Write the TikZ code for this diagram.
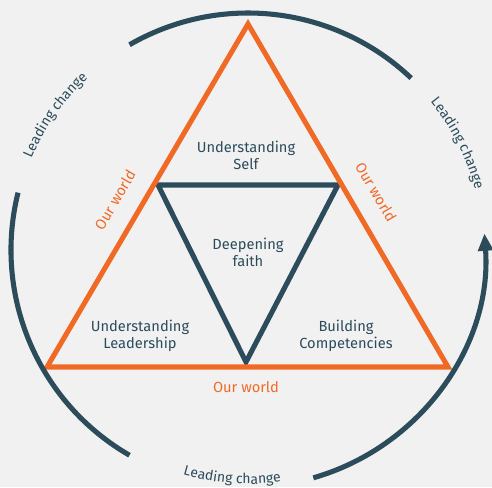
\documentclass[tikz,border=0pt]{standalone}
\usepackage{fontspec}
\setmainfont{Fira Sans}
\usetikzlibrary{positioning, calc, arrows.meta, decorations.text}
\definecolor{slate}{RGB}{44,76,92}
\definecolor{tangerine}{RGB}{240,106,38}
\definecolor{paper}{RGB}{241,241,241}

\begin{document}
\begin{tikzpicture}
    [x=0.75pt, y=0.75pt,
     areatext/.style={text=slate, font=\fontsize{11}{12.6}\selectfont, align=center},
     world/.style={text=tangerine, font=\fontsize{11}{13}\selectfont},
     ring/.style={draw=slate, line width=3.8pt},
     outer/.style={draw=tangerine, line width=3.8pt},
     inner/.style={draw=slate, line width=3.8pt}]

    \fill[paper] (0,0) rectangle (492,487);
    \useasboundingbox (0,0) rectangle (492,487);

    \coordinate (centre) at (248,237);

    % triangles
    \coordinate (apex) at (248,463);
    \coordinate (baseL) at (47,120);
    \coordinate (baseR) at (448,120);
    \coordinate (innerL) at (158,302);
    \coordinate (innerR) at (338,302);
    \coordinate (innerB) at (246,125);

    \draw[inner] (innerL) -- (innerR) -- (innerB) -- cycle;
    \draw[outer] (apex) -- (baseR) -- (baseL) -- cycle;

    \node[areatext] (self) at (246,332) {Understanding\\Self};
    \node[areatext] (faith) at (248,235) {Deepening\\faith};
    \node[areatext] (leader) at (140,151) {Understanding\\Leadership};
    \node[areatext] (compet) at (346,151) {Building\\Competencies};

    \node[world] (worldB) at (246,100) {Our world};
    \node[world, rotate=59.6] (worldL) at (115,287) {Our world};
    \node[world, rotate=-59.7] (worldR) at (376,295) {Our world};

    % ring of arcs
    \draw[ring] (centre) ++(120:237) arc[start angle=120, end angle=46.5, radius=237];
    \draw[ring] (centre) ++(166:237) arc[start angle=166, end angle=240, radius=237];
    \draw[ring, -{Triangle[width=11pt, length=13pt]}] (centre) ++(286:237)
      arc[start angle=286, end angle=364, radius=237];

    \path[decorate, decoration={text along path, text align=center,
      text={|\color{slate}\fontsize{10.5}{12}\selectfont|Leading change}}]
      (centre) ++(170:235) arc[start angle=170, end angle=120, radius=235];
    \path[decorate, decoration={text along path, text align=center,
      text={|\color{slate}\fontsize{10.5}{12}\selectfont|Leading change}}]
      (centre) ++(52:235) arc[start angle=52, end angle=2, radius=235];
    \path[decorate, decoration={text along path, text align=center,
      text={|\color{slate}\fontsize{10.5}{12}\selectfont|Leading change}}]
      (centre) ++(236:234) arc[start angle=236, end angle=296, radius=234];
\end{tikzpicture}
\end{document}
